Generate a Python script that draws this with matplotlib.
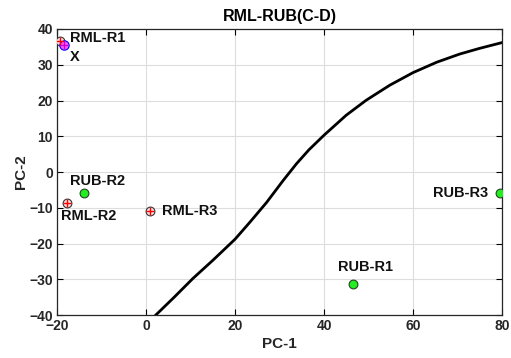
import numpy as np
import matplotlib
matplotlib.use('Agg')
import matplotlib.pyplot as plt

plt.rcParams['font.family'] = ['Liberation Sans', 'DejaVu Sans']
plt.rcParams['font.weight'] = 'bold'

# samples (PC-1, PC-2)
rml_names = ['RML-R1', 'RML-R2', 'RML-R3']
rml_x = [-19.3, -17.8, 0.9]
rml_y = [36.6, -8.7, -10.9]

rub_names = ['RUB-R1', 'RUB-R2', 'RUB-R3']
rub_x = [46.5, -13.9, 79.6]
rub_y = [-31.3, -5.9, -5.9]

unknown_name = 'X'
unknown_x = [-18.4]
unknown_y = [35.5]

# decision boundary
bound_x = [2.2, 6.1, 10.6, 15.1, 20.0, 23.3, 27.1, 30.8, 33.8, 36.6, 40.0, 45.0,
           49.5, 54.8, 60.0, 65.3, 70.5, 75.0, 80.0]
bound_y = [-40.0, -35.3, -29.7, -24.6, -18.8, -14.1, -8.5, -2.4, 2.3, 6.2, 10.3, 15.9,
           20.1, 24.3, 27.8, 30.7, 33.0, 34.6, 36.2]

# label offsets in points (dx, dy, ha)
rml_off = [(7, 2, 'left'), (16, -9, 'center'), (9, 0, 'left')]
rub_off = [(9, 12, 'center'), (10, 9, 'center'), (-9, 0, 'right')]

fig = plt.figure(figsize=(5.11, 3.58), dpi=100)
ax = fig.add_axes([0.1115, 0.12, 0.871, 0.799])

ax.plot(bound_x, bound_y, color='black', lw=2, zorder=2, solid_joinstyle='round')

ax.scatter(rml_x, rml_y, s=40, facecolor='#ffe0e0', edgecolor='#333333', lw=0.8, zorder=3)
ax.scatter(rml_x, rml_y, s=36, marker='+', color='red', lw=1.0, zorder=4)
ax.scatter(rub_x, rub_y, s=40, facecolor='#22ee22', edgecolor='#224422', lw=0.8, zorder=3)
ax.scatter(unknown_x, unknown_y, s=45, facecolor='#ff55ff', edgecolor='blue', lw=0.8, zorder=3)
ax.scatter(unknown_x, unknown_y, s=30, marker='+', color='#cc00cc', lw=0.9, zorder=4)

for n, x, y, (dx, dy, ha) in zip(rml_names, rml_x, rml_y, rml_off):
    ax.annotate(n, (x, y), xytext=(dx, dy), textcoords='offset points',
                ha=ha, va='center', fontsize=10.5, fontweight='bold', color='#111111')
for n, x, y, (dx, dy, ha) in zip(rub_names, rub_x, rub_y, rub_off):
    ax.annotate(n, (x, y), xytext=(dx, dy), textcoords='offset points',
                ha=ha, va='center', fontsize=10.5, fontweight='bold', color='#111111')
ax.annotate(unknown_name, (unknown_x[0], unknown_y[0]), xytext=(4.3, -8.6),
            textcoords='offset points', ha='left', va='center',
            fontsize=10.5, fontweight='bold', color='#111111')

ax.set_xlim(-20, 80)
ax.set_ylim(-40, 40)
ax.set_xticks(np.arange(-20, 81, 20))
ax.set_yticks(np.arange(-40, 41, 10))
ax.grid(True, color='#dddddd', lw=0.8)
ax.set_axisbelow(True)
ax.tick_params(direction='in', top=True, right=True, length=4, width=0.8,
               labelsize=10, labelcolor='#262626', pad=3)
for lab in ax.get_xticklabels() + ax.get_yticklabels():
    lab.set_fontweight('bold')
for sp in ax.spines.values():
    sp.set_linewidth(0.9)
    sp.set_color('#262626')

ax.set_xlabel('PC-1', fontsize=11, fontweight='bold', color='#262626', labelpad=3)
ax.set_ylabel('PC-2', fontsize=11, fontweight='bold', color='#262626', labelpad=1)
ax.set_title('RML-RUB(C-D)', fontsize=11.5, fontweight='bold', pad=6)

fig.savefig('out.png', dpi=100)
